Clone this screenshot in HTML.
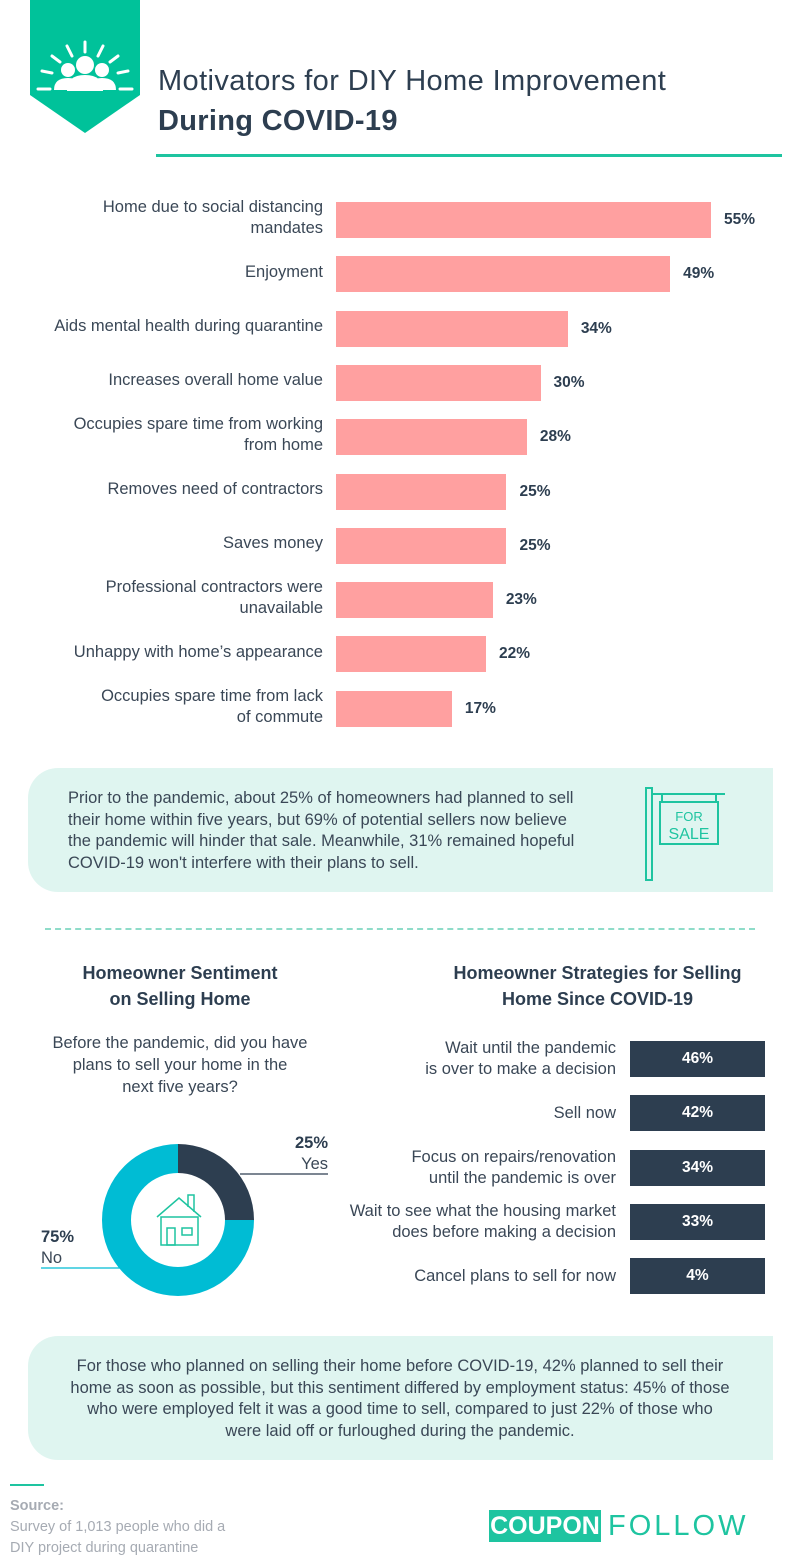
<!DOCTYPE html>
<html><head><meta charset="utf-8"><style>
body{margin:0;width:801px;height:1567px;background:#fff;position:relative;overflow:hidden;font-family:"Liberation Sans",sans-serif;color:#2d3e50}
.abs{position:absolute}
.lbl{position:absolute;right:478px;text-align:right;font-size:16.5px;line-height:21px;color:#3a4756;white-space:nowrap}
.box{position:absolute;left:28px;width:745px;background:#dff5f0;border-radius:30px 0 0 30px}
</style></head><body>
<svg class="abs" style="left:30px;top:0" width="110" height="135" viewBox="0 0 110 135">
<polygon points="0,0 110,0 110,95 55,133 0,95" fill="#00c29a"/>
<g stroke="#fff" stroke-width="3" stroke-linecap="round"><line x1="55" y1="42" x2="55" y2="52"/><line x1="37" y1="46" x2="42" y2="56"/><line x1="73" y1="46" x2="68" y2="56"/><line x1="22" y1="56" x2="30" y2="62"/><line x1="88" y1="56" x2="80" y2="62"/><line x1="12" y1="71" x2="22" y2="73"/><line x1="98" y1="71" x2="88" y2="73"/><line x1="8" y1="89" x2="20" y2="89"/><line x1="90" y1="89" x2="102" y2="89"/></g>
<g fill="#fff"><circle cx="38" cy="70" r="7"/><circle cx="72" cy="70" r="7"/><path d="M24 90 q0-12 14-12 q14 0 14 12z"/><path d="M58 90 q0-12 14-12 q14 0 14 12z"/><circle cx="55" cy="65" r="9"/><path d="M37 91 q0-16 18-16 q18 0 18 16z"/></g>
</svg>
<div class="abs" style="left:158px;top:61px;font-size:29px;letter-spacing:0.4px;line-height:40px;color:#2d3e50;white-space:nowrap">Motivators for DIY Home Improvement<br><b style="letter-spacing:0.3px">During COVID-19</b></div>
<div class="abs" style="left:156px;top:154px;width:626px;height:3px;background:#1ec4a0"></div>
<div id="bars"></div>
<div class="box" style="top:768px;height:124px"></div>
<div class="abs" style="left:68px;top:788px;white-space:nowrap;font-size:16.5px;line-height:21.5px;color:#3a4756">Prior to the pandemic, about 25% of homeowners had planned to sell<br>their home within five years, but 69% of potential sellers now believe<br>the pandemic will hinder that sale. Meanwhile, 31% remained hopeful<br>COVID-19 won't interfere with their plans to sell.</div>
<svg class="abs" style="left:640px;top:780px" width="100" height="105"><g fill="none" stroke="#1ec4a0" stroke-width="2"><rect x="6" y="8" width="6" height="92"/><line x1="12" y1="14" x2="85" y2="14"/><line x1="22" y1="14" x2="22" y2="22"/><line x1="76" y1="14" x2="76" y2="22"/><rect x="20" y="22" width="58" height="42"/></g><text x="49" y="41" text-anchor="middle" font-size="13" fill="#1ec4a0" font-family="Liberation Sans">FOR</text><text x="49" y="59" text-anchor="middle" font-size="16" fill="#1ec4a0" font-family="Liberation Sans">SALE</text></svg>
<div class="abs" style="left:45px;top:928px;width:710px;border-top:2px dashed #8fdcc9"></div>
<div class="abs" style="left:20px;top:960px;width:320px;text-align:center;font-size:18px;line-height:26px;font-weight:bold">Homeowner Sentiment<br>on Selling Home</div>
<div class="abs" style="left:20px;top:1032px;width:320px;text-align:center;font-size:16.5px;line-height:22px;color:#3a4756;white-space:nowrap">Before the pandemic, did you have<br>plans to sell your home in the<br>next five years?</div>
<svg class="abs" id="donut" style="left:0;top:1100px" width="400" height="200" font-family="Liberation Sans"></svg>
<div class="abs" style="left:410px;top:960px;width:375px;text-align:center;font-size:18px;line-height:26px;font-weight:bold">Homeowner Strategies for Selling<br>Home Since COVID-19</div>
<div id="sbars"></div>
<div class="box" style="top:1336px;height:124px"></div>
<div class="abs" style="left:20px;width:760px;top:1356px;text-align:center;font-size:16.5px;line-height:21.5px;color:#3a4756;white-space:nowrap">For those who planned on selling their home before COVID-19, 42% planned to sell their<br>home as soon as possible, but this sentiment differed by employment status: 45% of those<br>who were employed felt it was a good time to sell, compared to just 22% of those who<br>were laid off or furloughed during the pandemic.</div>
<div class="abs" style="left:10px;top:1484px;width:34px;height:2px;background:#1ec4a0"></div>
<div class="abs" style="left:10px;top:1496px;font-size:14.5px;line-height:21px;color:#a6abb3;white-space:nowrap"><b>Source:</b><br>Survey of 1,013 people who did a<br>DIY project during quarantine</div>
<div class="abs" style="left:489px;top:1510px;width:112px;height:32px;background:#1ec4a0;color:#fff;font-weight:bold;font-size:25px;line-height:32px;text-align:center">COUPON</div>
<div class="abs" style="left:608px;top:1509px;font-size:29px;line-height:34px;color:#1ec4a0;letter-spacing:3px">FOLLOW</div>
<script>
const cats=["Home due to social distancing<br>mandates","Enjoyment","Aids mental health during quarantine","Increases overall home value","Occupies spare time from working<br>from home","Removes need of contractors","Saves money","Professional contractors were<br>unavailable","Unhappy with home’s appearance","Occupies spare time from lack<br>of commute"];
const vals=[55,49,34,30,28,25,25,23,22,17];
const scats=["Wait until the pandemic<br>is over to make a decision","Sell now","Focus on repairs/renovation<br>until the pandemic is over","Wait to see what the housing market<br>does before making a decision","Cancel plans to sell for now"];
const svals=[46,42,34,33,4];
const pieVals=[25,75];
const pieLabels=["Yes","No"];
const x=v=>v*375/55;
const b=document.getElementById('bars');
cats.forEach((c,i)=>{const cy=220+i*54.3;
 const r=document.createElement('div');r.className='abs';
 
 
 r.style.cssText=`left:336px;top:${cy-18}px;height:36px;width:${x(vals[i])}px;background:#ffa0a0`;b.appendChild(r);
 const l=document.createElement('div');l.className='lbl';l.innerHTML=c;
 
 
 const n=c.includes('<br>')?2:1;l.style.top=(cy-n*10.5-2)+'px';b.appendChild(l);
 const v=document.createElement('div');v.className='abs';v.textContent=vals[i]+'%';
 
 
 v.style.cssText=`left:${336+x(vals[i])+13}px;top:${cy-9}px;font-size:15.5px;font-weight:bold`;b.appendChild(v);});
const s=document.getElementById('sbars');
scats.forEach((c,i)=>{const cy=1059+i*54.3;
 const r=document.createElement('div');r.className='abs';
 
 
 r.style.cssText=`left:630px;top:${cy-18}px;height:36px;width:135px;background:#2d3e50;color:#fff;font-weight:bold;font-size:15.5px;line-height:36px;text-align:center`;
 r.textContent=svals[i]+'%';s.appendChild(r);
 const l=document.createElement('div');l.className='lbl';l.innerHTML=c;l.style.right='185px';
 
 
 const n=c.includes('<br>')?2:1;l.style.top=(cy-n*11+1)+'px';s.appendChild(l);});
const d=document.getElementById('donut'),ns='http://www.w3.org/2000/svg';
const cx=178,cy=120,R=76,ri=47,cols=['#2d3e50','#00bcd4'];let a0=0;const tot=pieVals.reduce((p,q)=>p+q,0);
pieVals.forEach((v,i)=>{const a1=a0+v/tot*2*Math.PI;const p=(a,r)=>[cx+r*Math.sin(a),cy-r*Math.cos(a)];
 const [x1,y1]=p(a0,R),[x2,y2]=p(a1,R),[x3,y3]=p(a1,ri),[x4,y4]=p(a0,ri);const lg=a1-a0>Math.PI?1:0;
 const e=document.createElementNS(ns,'path');
 e.setAttribute('d',`M${x1} ${y1}A${R} ${R} 0 ${lg} 1 ${x2} ${y2}L${x3} ${y3}A${ri} ${ri} 0 ${lg} 0 ${x4} ${y4}Z`);
 e.setAttribute('fill',cols[i]);
 
 
 d.appendChild(e);a0=a1;});
d.insertAdjacentHTML('beforeend',`<line x1="240" y1="74" x2="328" y2="74" stroke="#2d3e50" stroke-width="1.2"/><line x1="41" y1="168" x2="120" y2="168" stroke="#00bcd4" stroke-width="1.2"/>
<text x="328" y="48" text-anchor="end" font-size="16.5" font-weight="bold" fill="#2d3e50">${pieVals[0]}%</text><text x="328" y="69" text-anchor="end" font-size="16.5" fill="#3a4756">${pieLabels[0]}</text>
<text x="41" y="142" font-size="16.5" font-weight="bold" fill="#2d3e50">${pieVals[1]}%</text><text x="41" y="163" font-size="16.5" fill="#3a4756">${pieLabels[1]}</text>
<g fill="none" stroke="#1ec4a0" stroke-width="1.5"><polyline points="157,117 179,98 201,117"/><rect x="161" y="117" width="37" height="28"/><rect x="167" y="128" width="8" height="17"/><rect x="182" y="128" width="10" height="7"/><polyline points="188,107 188,95 194,95 194,112"/></g>`);
</script>
</body></html>
